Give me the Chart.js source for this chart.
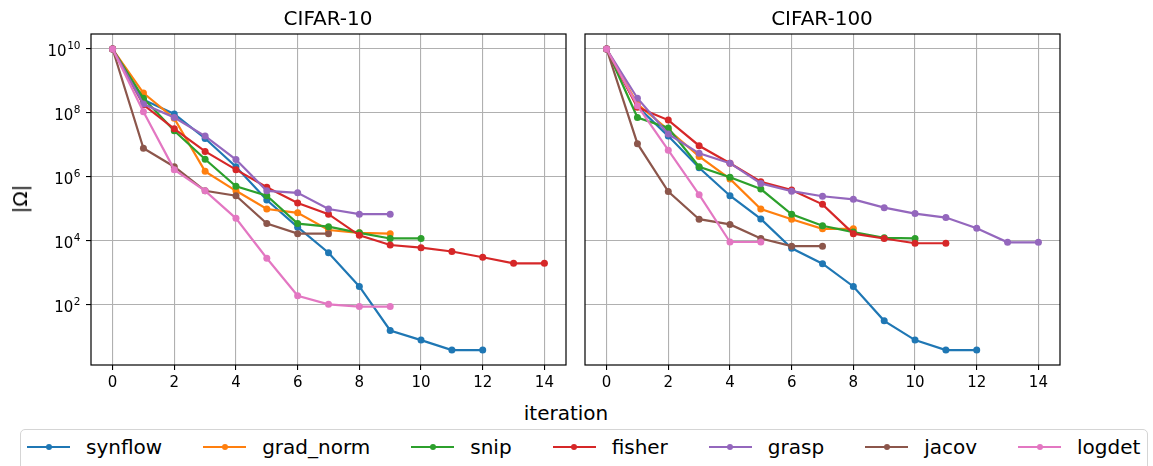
<!DOCTYPE html>
<html><head><meta charset="utf-8">
<script src="https://cdn.jsdelivr.net/npm/chart.js@4.4.0/dist/chart.umd.min.js"></script>
<style>
body{margin:0;background:#fff;width:1153px;height:466px;overflow:hidden;position:relative;font-family:"DejaVu Sans",sans-serif;color:#000}
canvas{position:absolute;top:0}
.t{position:absolute;font-size:20px;white-space:nowrap;transform:translate(-50%,-50%);line-height:1}
#legend{position:absolute;left:20px;top:429px;width:1128px;height:46px;border:1px solid #d5d5d5;border-radius:5px;box-sizing:border-box;display:flex;align-items:center;padding-left:6px;padding-bottom:10px}
.item{display:flex;align-items:center;margin-right:41px;font-size:20px}
.sw{position:relative;width:43px;height:2px;margin-right:16px}
.dot{position:absolute;left:50%;top:50%;width:6px;height:6px;border-radius:50%;transform:translate(-50%,-50%)}
</style></head>
<body>
<canvas id="c1" width="580" height="400" style="left:0"></canvas>
<canvas id="c2" width="490" height="400" style="left:575px"></canvas>
<div class="t" style="left:328px;top:18px">CIFAR-10</div>
<div class="t" style="left:822px;top:18px">CIFAR-100</div>
<div class="t" style="left:20px;top:199px;transform:translate(-50%,-50%) rotate(-90deg)">|Ω|</div>
<div class="t" style="left:566px;top:413px">iteration</div>
<div id="legend"></div>
<script>
const methods = ["synflow","grad_norm","snip","fisher","grasp","jacov","logdet"];
const colors = ["#1f77b4","#ff7f0e","#2ca02c","#d62728","#9467bd","#8c564b","#e377c2"];
const xTicks = [0,2,4,6,8,10,12,14];
const yTickValues = [1e2,1e4,1e6,1e8,1e10];
const yTickBase = ["10","10","10","10","10"];
const yTickExp = ["2","4","6","8","10"];

// CIFAR-10
const c10_synflow  = [1e10,2.6e8,9.3e7,1.6e7,2.1e6,1.9e5,2.7e4,4.3e3,380,16,8,3.9,3.9];
const c10_grad_norm= [1e10,4.2e8,6.8e7,1.5e6,3.7e5,1.0e5,7.6e4,2.2e4,1.8e4,1.7e4];
const c10_snip     = [1e10,2.9e8,2.8e7,3.6e6,5.1e5,2.6e5,3.5e4,2.8e4,1.8e4,1.2e4,1.2e4];
const c10_fisher   = [1e10,1.8e8,3.2e7,6.3e6,1.7e6,4.8e5,1.55e5,6.9e4,1.5e4,7.5e3,6.2e3,4.7e3,3.1e3,2.0e3,2.0e3];
const c10_grasp    = [1e10,1.9e8,7.2e7,1.9e7,3.5e6,3.7e5,3.2e5,1.0e5,6.9e4,6.9e4];
const c10_jacov    = [1e10,7.9e6,2.1e6,3.7e5,2.6e5,3.5e4,1.7e4,1.7e4];
const c10_logdet   = [1e10,1.1e8,1.7e6,3.7e5,5.1e4,2.9e3,195,105,89,89];

// CIFAR-100
const c100_synflow  = [1e10,1.6e8,1.9e7,1.95e6,2.6e5,4.9e4,5.9e3,1.95e3,380,32,8,3.9,3.9];
const c100_grad_norm= [1e10,1.9e8,3.0e7,4.4e6,8.7e5,1.0e5,4.8e4,2.4e4,2.4e4];
const c100_snip     = [1e10,7.2e7,3.4e7,2.1e6,9.8e5,4.2e5,6.8e4,3.0e4,1.9e4,1.26e4,1.2e4];
const c100_fisher   = [1e10,1.5e8,6.0e7,9.5e6,2.7e6,7.1e5,3.9e5,1.4e5,1.7e4,1.2e4,8.5e3,8.5e3];
const c100_grasp    = [1e10,2.9e8,2.2e7,5.5e6,2.7e6,6.3e5,3.6e5,2.5e5,2.0e5,1.1e5,7.2e4,5.4e4,2.5e4,9.1e3,9.1e3];
const c100_jacov    = [1e10,1.1e7,3.5e5,4.8e4,3.3e4,1.2e4,6.9e3,6.9e3];
const c100_logdet   = [1e10,1.7e8,6.9e6,2.8e5,9.3e3,9.3e3];

const cifar10 = [c10_synflow,c10_grad_norm,c10_snip,c10_fisher,c10_grasp,c10_jacov,c10_logdet];
const cifar100 = [c100_synflow,c100_grad_norm,c100_snip,c100_fisher,c100_grasp,c100_jacov,c100_logdet];

const frame = {id:'frame', afterDatasetsDraw(c){const a=c.chartArea, ctx=c.ctx; ctx.save(); ctx.strokeStyle='#000'; ctx.lineWidth=1.2; ctx.strokeRect(a.left,a.top,a.right-a.left,a.bottom-a.top); ctx.restore();}};

// power-of-ten tick labels with a real superscript, placed by the y scale
const powLabels = {id:'powLabels', afterDraw(c, args, opts){
  if(!opts.show) return;
  const ys = c.scales.y, ctx = c.ctx, right = c.chartArea.left - 11;
  ctx.save(); ctx.fillStyle = '#000'; ctx.textBaseline = 'alphabetic'; ctx.textAlign = 'left';
  yTickValues.forEach((v,k)=>{
    const py = ys.getPixelForValue(v);
    ctx.font = '10.5px "DejaVu Sans"';
    const we = ctx.measureText(yTickExp[k]).width;
    ctx.font = '15px "DejaVu Sans"';
    const wb = ctx.measureText(yTickBase[k]).width;
    const x0 = right - we - wb;
    ctx.fillText(yTickBase[k], x0, py + 6.5);
    ctx.font = '10.5px "DejaVu Sans"';
    ctx.fillText(yTickExp[k], x0 + wb + 0.5, py - 0.5);
  });
  ctx.restore();
}};

function makePanel(id, series, showY, yWidth, padRight){
  const datasets = series.map((vals,i)=>({
    label: methods[i],
    data: vals.map((v,k)=>({x:k,y:v})),
    borderColor: colors[i], backgroundColor: colors[i],
    borderWidth: 2.2, pointRadius: 3.5, pointBorderWidth: 0, pointHoverRadius: 3.5,
    tension: 0, order: 6 - i
  }));
  new Chart(document.getElementById(id), {
    type: 'line',
    data: {datasets},
    plugins: [frame, powLabels],
    options: {
      responsive: false, animation: false, events: [],
      layout: {padding: {left: 0, top: 34, right: padRight, bottom: 0}},
      plugins: {legend: {display: false}, tooltip: {enabled: false}, powLabels: {show: showY}},
      scales: {
        x: {
          type: 'linear', min: -0.7, max: 14.7,
          afterBuildTicks: s => { s.ticks = xTicks.map(v=>({value:v})); },
          afterFit: s => { s.height = 35; },
          border: {display: false},
          grid: {color: '#b0b0b0', lineWidth: 1.1, tickColor: '#000', tickLength: 5, tickWidth: 1.1},
          ticks: {color: '#000', font: {family: 'DejaVu Sans', size: 15}, padding: 4, maxRotation: 0, autoSkip: false}
        },
        y: {
          type: 'logarithmic', min: Math.pow(10,0.125), max: Math.pow(10,10.469),
          afterBuildTicks: s => { s.ticks = yTickValues.map(v=>({value:v})); },
          afterFit: s => { s.width = yWidth; },
          border: {display: false},
          grid: {color: '#b0b0b0', lineWidth: 1.1, tickColor: '#000', tickLength: showY ? 5 : 0, tickWidth: 1.1, drawTicks: showY},
          ticks: {display: false}
        }
      }
    }
  });
}
makePanel('c1', cifar10, true, 91, 14);
makePanel('c2', cifar100, false, 10, 5);

const leg = document.getElementById('legend');
methods.forEach((m,i)=>{
  const it = document.createElement('div'); it.className='item';
  it.innerHTML = `<div class="sw" style="background:${colors[i]}"><div class="dot" style="background:${colors[i]}"></div></div><span>${m}</span>`;
  leg.appendChild(it);
});
</script>
</body></html>
